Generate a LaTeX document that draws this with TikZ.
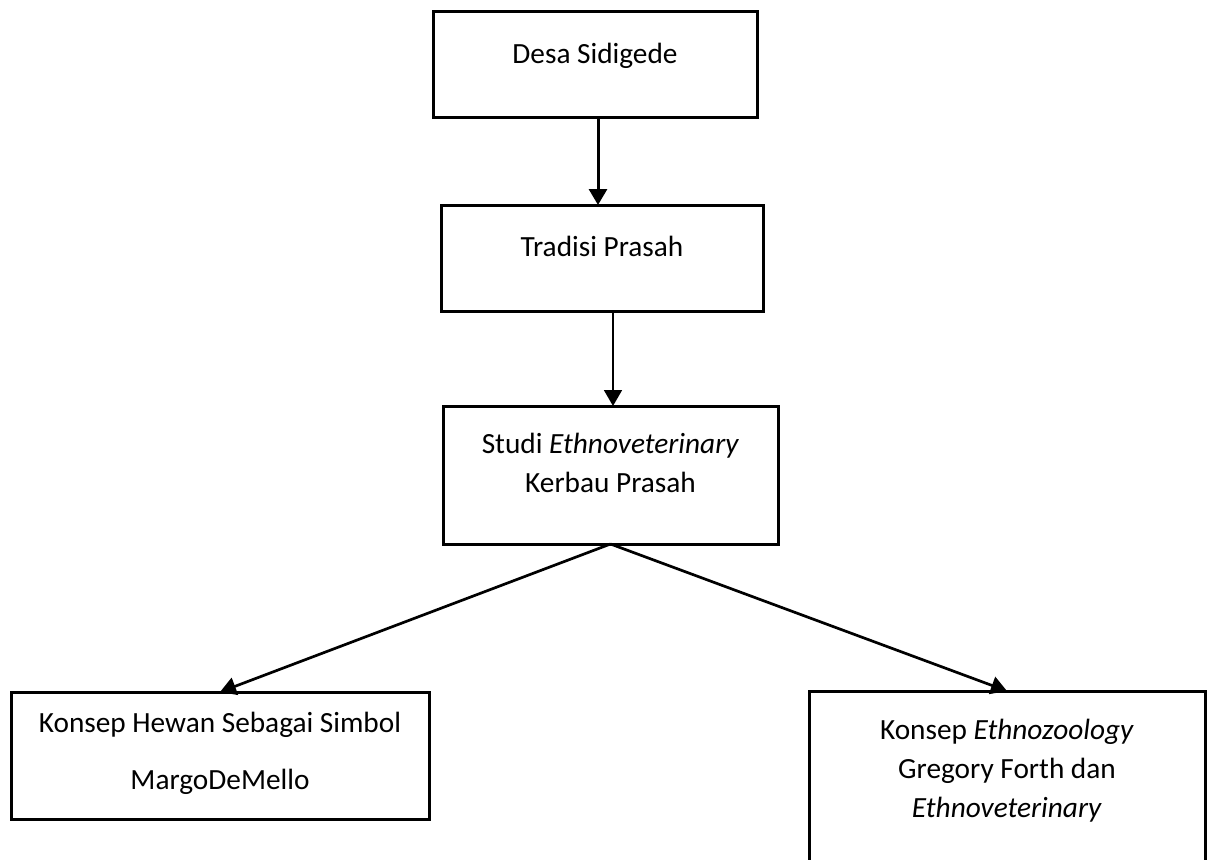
\documentclass[tikz,border=0pt]{standalone}
\usepackage{fontspec}
\setmainfont{Carlito}
\usetikzlibrary{arrows.meta}

\begin{document}
\begin{tikzpicture}[x=1pt,y=-1pt,
  kotak/.style={draw,line width=3pt,align=center,anchor=north,
    inner xsep=0pt,inner ysep=0pt,outer sep=0pt,
    font=\fontsize{29.3}{39}\selectfont},
  panah/.style={-{Triangle[length=16pt,width=18pt]},line width=2.7pt}]
\clip (0,0) rectangle (1211,860);
\node[kotak,minimum width=324pt,text height=52pt,text depth=54pt]
  (desa) at (595,11) {Desa Sidigede};
\node[kotak,minimum width=322pt,text height=51pt,text depth=55pt]
  (tradisi) at (602,205) {Tradisi Prasah};
\node[kotak,minimum width=335pt,text height=86pt,text depth=52pt]
  (studi) at (610.5,406) {Studi \textit{Ethnoveterinary}\\Kerbau Prasah};
\node[kotak,minimum width=418pt,text height=97pt,text depth=30pt]
  (hewan) at (220,692) {Konsep Hewan Sebagai Simbol\\[18pt]MargoDeMello};
\node[kotak,minimum width=396pt,text height=126pt,text depth=60pt]
  (konsep) at (1007,691)
  {Konsep \textit{Ethnozoology}\\Gregory Forth dan\\\textit{Ethnoveterinary}};
\draw[panah,line width=3pt] ([xshift=3pt]desa.south) -- ([xshift=3pt]desa.south |- tradisi.north);
\draw[panah,line width=1.8pt] ([xshift=11pt]tradisi.south) -- ([xshift=11pt]tradisi.south |- studi.north);
\draw[panah] (studi.south) -- (hewan.north);
\draw[panah] (studi.south) -- (konsep.north);
\end{tikzpicture}
\end{document}
